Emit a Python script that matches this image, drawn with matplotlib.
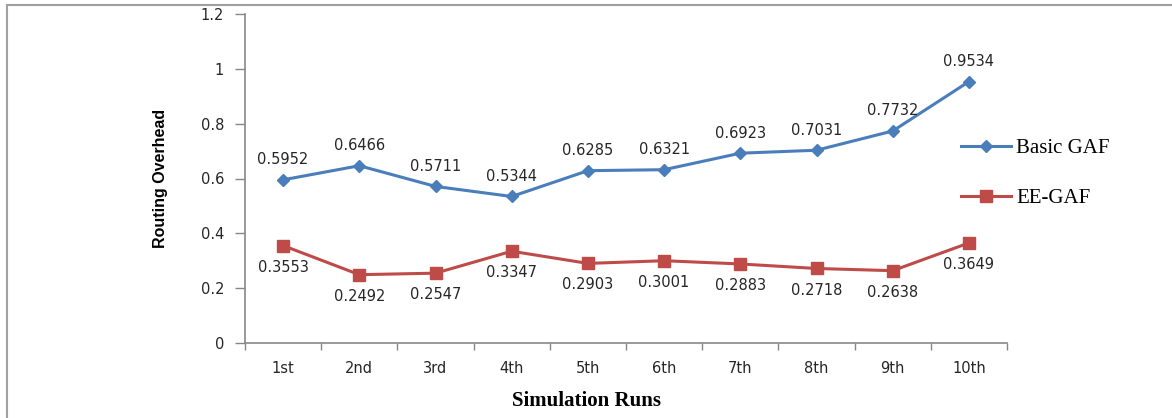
import numpy as np
import matplotlib
matplotlib.use('Agg')
import matplotlib.pyplot as plt
from matplotlib.lines import Line2D

runs = ['1st', '2nd', '3rd', '4th', '5th', '6th', '7th', '8th', '9th', '10th']
basic_gaf = [0.5952, 0.6466, 0.5711, 0.5344, 0.6285, 0.6321, 0.6923, 0.7031, 0.7732, 0.9534]
ee_gaf = [0.3553, 0.2492, 0.2547, 0.3347, 0.2903, 0.3001, 0.2883, 0.2718, 0.2638, 0.3649]
y_ticks = [0, 0.2, 0.4, 0.6, 0.8, 1.0, 1.2]
y_tick_labels = ['0', '0.2', '0.4', '0.6', '0.8', '1', '1.2']

blue = '#4a7ebb'
red = '#be4b48'
axis_grey = '#878787'
text_col = '#262626'

plt.rcParams['font.family'] = ['DejaVu Sans']

fig = plt.figure(figsize=(11.72, 4.18), dpi=100)
ax = fig.add_axes([245 / 1172, 75 / 418, 762 / 1172, 329 / 418])

x = np.arange(len(runs))
ax.plot(x, basic_gaf, color=blue, lw=2.2, marker='D', markersize=6.5, label='Basic GAF')
ax.plot(x, ee_gaf, color=red, lw=2.2, marker='s', markersize=9, label='EE-GAF')

for xi, v in zip(x, basic_gaf):
    ax.annotate(f'{v:.4f}', (xi, v), xytext=(0, 14.5), textcoords='offset points',
                ha='center', va='center', fontsize=10.5, color=text_col)
for xi, v in zip(x, ee_gaf):
    ax.annotate(f'{v:.4f}', (xi, v), xytext=(0, -15.5), textcoords='offset points',
                ha='center', va='center', fontsize=10.5, color=text_col)

ax.set_xlim(-0.5, len(runs) - 0.5)
ax.set_ylim(0, 1.2)
ax.set_yticks(y_ticks)
ax.set_yticklabels(y_tick_labels)
ax.set_xticks(x)
ax.set_xticklabels(runs)
ax.set_xticks(np.arange(len(runs) + 1) - 0.5, minor=True)
ax.tick_params(axis='x', which='major', length=0, pad=13, labelsize=10.5, labelcolor=text_col)
ax.tick_params(axis='x', which='minor', length=5, width=1, color=axis_grey, direction='out')
ax.tick_params(axis='y', length=7, width=1, color=axis_grey, direction='out', pad=8,
               labelsize=10.5, labelcolor=text_col)

for side in ['top', 'right']:
    ax.spines[side].set_visible(False)
for side in ['left', 'bottom']:
    ax.spines[side].set_color(axis_grey)
    ax.spines[side].set_linewidth(1.2)

ax.set_ylabel('Routing Overhead', fontsize=11.5, fontweight='bold', family='Liberation Sans')
ax.set_xlabel('Simulation Runs', fontsize=15, fontweight='bold', family='Liberation Serif')
ax.xaxis.set_label_coords((587 - 245) / 762, -(391 - 343) / 329)
ax.yaxis.set_label_coords(-(245 - 168) / 762, 0.5)

leg = ax.legend(loc='center left', bbox_to_anchor=(942 / 1172, (418 - 173.5) / 418),
                bbox_transform=fig.transFigure, frameon=False, handlelength=2.4,
                handletextpad=0.25, labelspacing=1.45,
                prop={'family': 'Liberation Serif', 'size': 15})

# outer frame lines (top and left)
fig.add_artist(Line2D([7 / 1172, 1], [1 - 5 / 418, 1 - 5 / 418], color='#a0a0a0', lw=1.5))
fig.add_artist(Line2D([7 / 1172, 7 / 1172], [0, 1 - 5 / 418], color='#a0a0a0', lw=1.5))

fig.savefig('out.png', dpi=100)
